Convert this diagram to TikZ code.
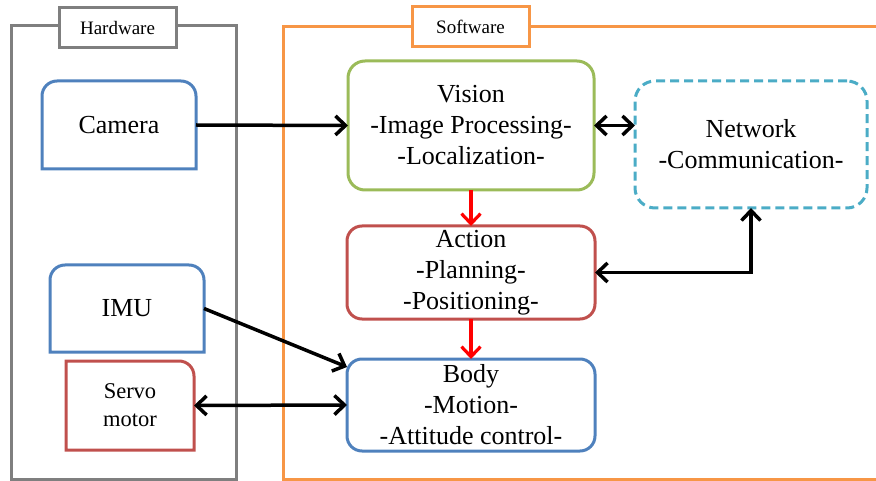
\documentclass[tikz,border=0pt]{standalone}
\usepackage{fontspec}
\setmainfont{Liberation Serif}
\usetikzlibrary{arrows.meta,calc}
\definecolor{hwgray}{RGB}{127,127,127}
\definecolor{swor}{RGB}{247,150,70}
\definecolor{oblue}{RGB}{79,129,189}
\definecolor{ored}{RGB}{192,80,77}
\definecolor{ogreen}{RGB}{155,187,89}
\definecolor{ocyan}{RGB}{75,172,198}
\begin{document}
\begin{tikzpicture}[x=1pt,y=1pt,
  frame/.style={line width=3pt},
  lbl/.style={draw, line width=3pt, fill=white, minimum width=117pt, minimum height=40pt,
              inner sep=0pt, font=\fontsize{19}{23}\selectfont},
  blk/.style={inner sep=0pt, outer sep=0pt, align=center, font=\fontsize{26}{31}\selectfont},
  rbox/.style={blk, draw, line width=3pt, rounded corners=15pt},
  edge/.style={line width=3pt},
  conn/.style={line width=3.5pt, black, -{Straight Barb[length=10pt,width=19pt]}},
  dconn/.style={line width=3.5pt, black, {Straight Barb[length=10pt,width=19pt]}-{Straight Barb[length=10pt,width=19pt]}},
  rconn/.style={line width=3.2pt, red, -{Straight Barb[length=10pt,width=19pt]}}
]
\useasboundingbox (0,0) rectangle (876,-481);

% frames
\draw[frame, hwgray] (11,-26) rectangle (236,-479);
\coordinate (swtr) at (880,-27);
\coordinate (swbr) at (880,-479);
\draw[frame, swor] (swtr) -- (283,-27) -- (283,-479) -- (swbr);
\node[lbl, draw=hwgray] (hwl) at (117.5,-28) {Hardware};
\node[lbl, draw=swor] (swl) at (470.5,-27) {Software};

% hardware blocks
\node[blk, minimum width=154pt, minimum height=88pt] (cam) at (119,-125) {\raisebox{-2pt}{Camera}};
\draw[edge, oblue] (cam.south west) -- ($(cam.north west)+(0,-15)$)
  arc[start angle=180, end angle=90, radius=15pt] -- ($(cam.north east)+(-15,0)$)
  arc[start angle=90, end angle=0, radius=15pt] -- (cam.south east) -- cycle;

\node[blk, minimum width=154pt, minimum height=87pt] (imu) at (127,-308.5) {\raisebox{-2pt}{IMU}};
\draw[edge, oblue] (imu.south west) -- ($(imu.north west)+(0,-15)$)
  arc[start angle=180, end angle=90, radius=15pt] -- ($(imu.north east)+(-15,0)$)
  arc[start angle=90, end angle=0, radius=15pt] -- (imu.south east) -- cycle;

\node[blk, minimum width=128pt, minimum height=89pt, font=\fontsize{22.5}{28}\selectfont] (servo) at (130,-405.5) {Servo\\motor};
\draw[edge, ored] (servo.south west) -- (servo.north west) -- ($(servo.north east)+(-15,0)$)
  arc[start angle=90, end angle=0, radius=15pt] -- (servo.south east) -- cycle;

% software blocks
\node[rbox, draw=ogreen, rounded corners=17pt, minimum width=246pt, minimum height=129pt] (vis) at (471,-125.5)
  {Vision\\-Image Processing-\\-Localization-};
\node[rbox, draw=ocyan, dashed, dash pattern=on 9pt off 5pt, rounded corners=20pt, minimum width=232pt, minimum height=127pt] (net) at (751,-144.5)
  {Network\\-Communication-};
\node[rbox, draw=ored, minimum width=248pt, minimum height=93pt] (act) at (471,-272.5)
  {Action\\-Planning-\\-Positioning-};
\node[rbox, draw=oblue, minimum width=248pt, minimum height=92pt] (body) at (471,-405)
  {Body\\-Motion-\\-Attitude control-};

% connectors
\draw[conn] (cam.east) -- (vis.west);
\draw[dconn] (vis.east) -- (vis.east -| net.west);
\draw[rconn] (vis.south) -- (act.north);
\draw[rconn] (act.south) -- (body.north);
\draw[dconn] (act.east) -| (net.south);
\draw[conn] (imu.east) -- ($(body.west)+(0,38)$);
\draw[dconn] (servo.east) -- (body.west);
\end{tikzpicture}
\end{document}
